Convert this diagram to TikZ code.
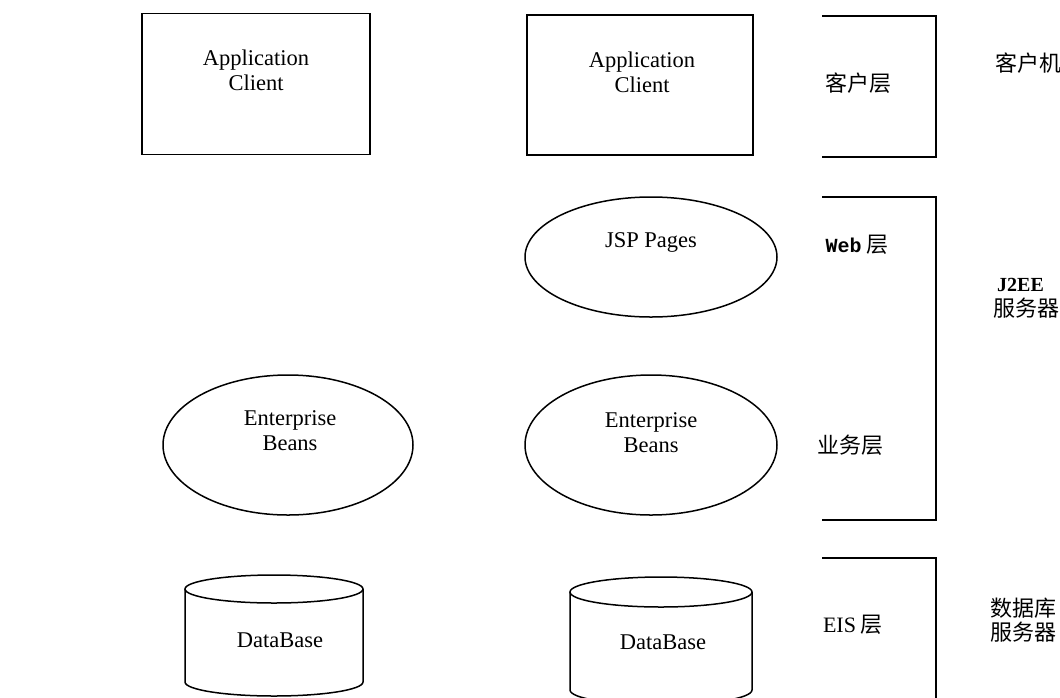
\documentclass[tikz,border=0pt]{standalone}
\usepackage{fontspec}
\setmainfont{Liberation Serif}
\setmonofont{Liberation Mono}
\newfontfamily\cjk{Noto Sans CJK SC}
\usetikzlibrary{shapes.geometric}
\tikzset{
  tierbox/.style={draw, line width=1.9pt, rectangle, minimum width=228pt, minimum height=141pt, inner sep=0pt},
  compell/.style={draw, line width=1.5pt, ellipse, minimum width=252pt, minimum height=140pt, inner sep=0pt},
  dbline/.style={line width=1.5pt},
  txt/.style={font=\fontsize{22.5}{25}\selectfont, align=center, inner sep=0pt},
  cn/.style={font=\cjk\fontsize{22}{24}\selectfont, align=left, inner sep=0pt},
  bracket/.style={line width=1.8pt}
}

\begin{document}
\begin{tikzpicture}[x=1pt,y=-1pt]

\useasboundingbox (0,0) rectangle (1060,697);

\node[tierbox] (clientL) at (256,84) {};
\node[tierbox, minimum width=226pt, minimum height=140pt] (clientR) at (640,85) {};
\node[txt] (clientLtxt) at ([yshift=14pt]clientL.center) {Application\\Client};
\node[txt] (clientRtxt) at ([xshift=2pt,yshift=13pt]clientR.center) {Application\\Client};

\node[compell, minimum height=120pt] (jsp) at (651,257) {};
\node[txt] (jsptxt) at ([yshift=15pt]jsp.center) {JSP Pages};
\node[compell] (ejbR) at (651,445) {};
\node[txt] (ejbRtxt) at ([yshift=12pt]ejbR.center) {Enterprise\\Beans};
\node[compell, minimum width=250pt] (ejbL) at (288,445) {};
\node[txt] (ejbLtxt) at ([xshift=2pt,yshift=14pt]ejbL.center) {Enterprise\\Beans};

\coordinate (dbL) at (274,589);
\coordinate (dbR) at (661,592);
\draw[dbline] (dbL) ellipse [x radius=89pt, y radius=14pt];
\draw[dbline] (185,589) -- (185,682) arc [start angle=180, end angle=360, x radius=89pt, y radius=14pt] -- (363,589);
\draw[dbline] (dbR) ellipse [x radius=91pt, y radius=15pt];
\draw[dbline] (570,592) -- (570,690) arc [start angle=180, end angle=360, x radius=91pt, y radius=15pt] -- (752,592);
\node[txt] (dbLtxt) at (280,640) {DataBase};
\node[txt] (dbRtxt) at (663,642) {DataBase};

\coordinate (t1) at (822,16);
\coordinate (b1) at (822,157);
\coordinate (t2) at (822,197);
\coordinate (b2) at (822,520);
\coordinate (t3) at (822,558);
\coordinate (b3) at (936,705);

\draw[bracket] (t1) -- (936,16) -- (936,157) -- (b1);
\draw[bracket] (t2) -- (936,197) -- (936,520) -- (b2);
\draw[bracket] (t3) -- (936,558) -- (b3);

\node[cn] (tier1) at (858,83) {客户层};
\node[cn] (tier2) at (857,245) {{\ttfamily\bfseries\fontsize{20}{24}\selectfont Web} 层};
\node[cn] (tier3) at (850,445) {业务层};
\node[cn] (tier4) at (853,625) {{\rmfamily EIS} 层};

\node[cn, anchor=west] (host1) at (995,63) {客户机};
\node[cn, anchor=west, font=\rmfamily\bfseries\fontsize{20}{24}\selectfont] (host2a) at (997,285) {J2EE};
\node[cn, anchor=west] (host2b) at (993,308) {服务器};
\node[cn, anchor=west] (host3) at (990,620) {数据库\\服务器};

\end{tikzpicture}
\end{document}
